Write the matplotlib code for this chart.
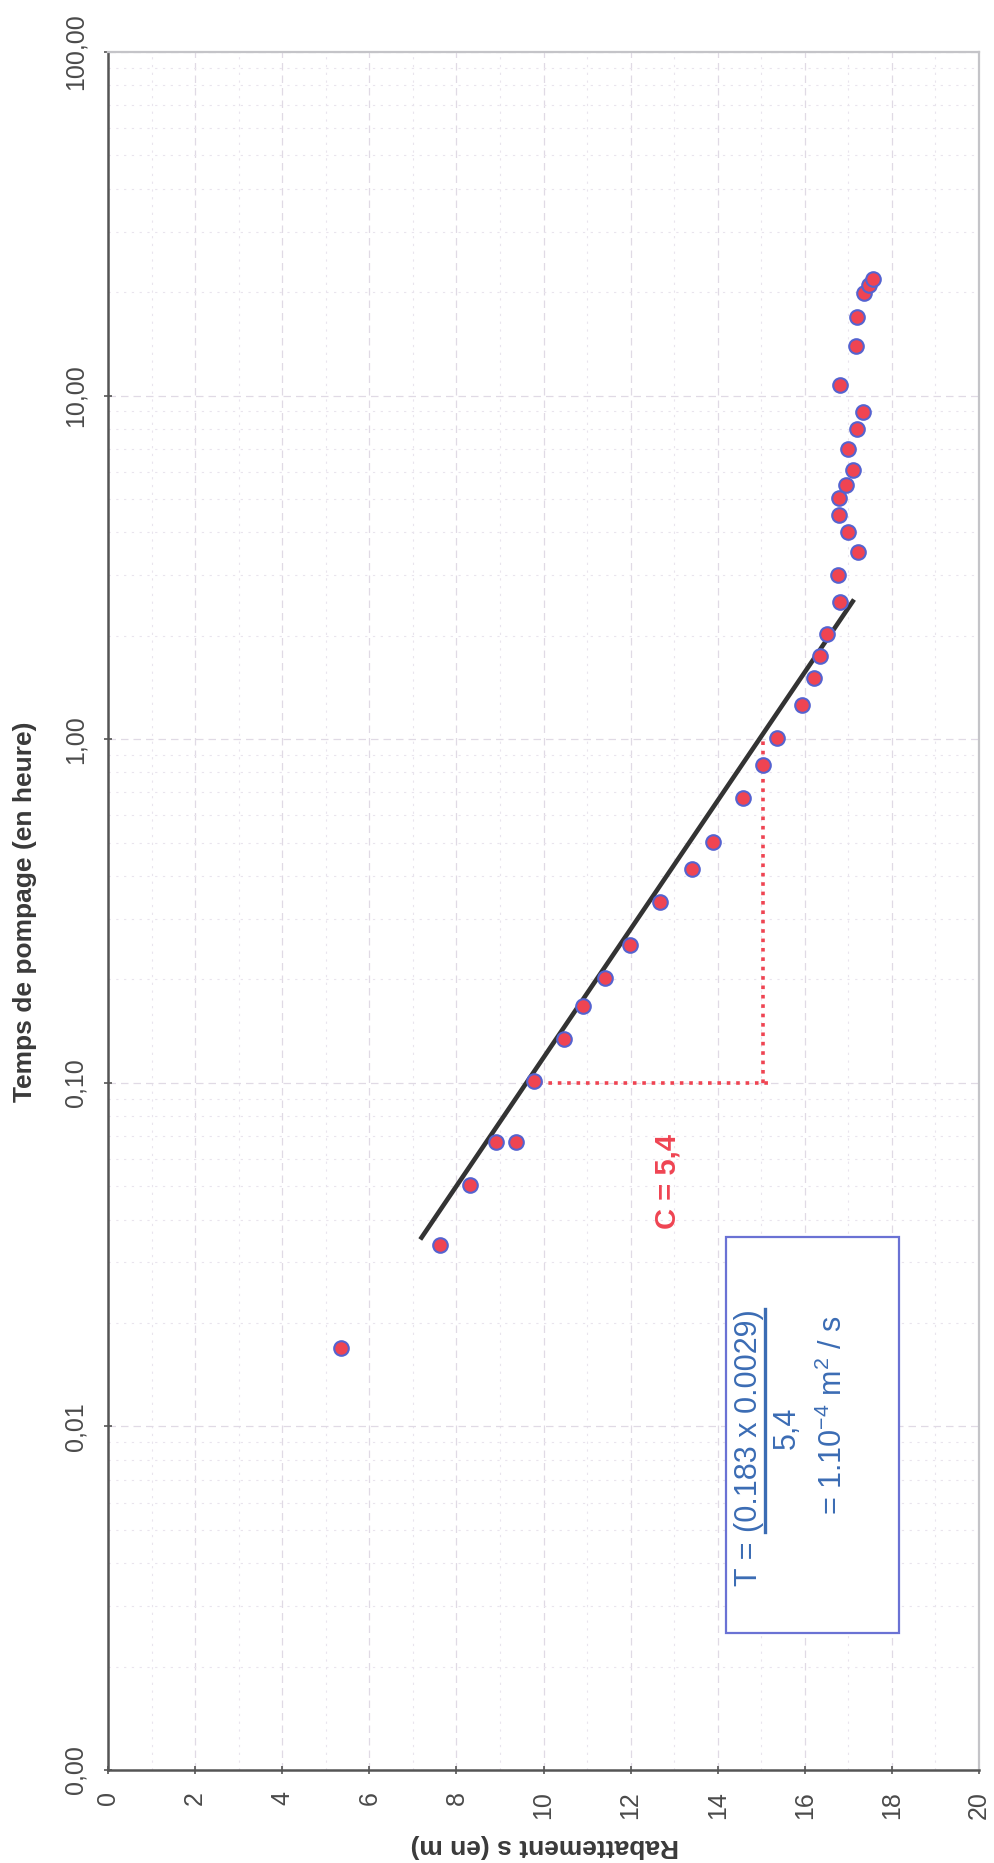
import matplotlib
matplotlib.use('Agg')
import matplotlib.pyplot as plt
from matplotlib.patches import Rectangle
from matplotlib.lines import Line2D
from matplotlib.ticker import FixedLocator, FuncFormatter, LogLocator

plt.rcParams['font.family'] = ['Liberation Sans', 'DejaVu Sans']
plt.rcParams['mathtext.default'] = 'regular'

# pumping test: time (hours) vs drawdown (m)
temps_h = [0.0169, 0.0338, 0.0505, 0.0671, 0.0671, 0.1009, 0.134, 0.1676,
           0.2017, 0.251, 0.335, 0.419, 0.502, 0.673, 0.839, 1.006, 1.256,
           1.51, 1.75, 2.02, 2.51, 3.0, 3.5, 4.0, 4.49, 5.02, 5.49, 6.07,
           6.99, 7.98, 8.97, 10.73, 13.9, 16.97, 19.9, 21.0, 21.9]
rabattement_m = [5.35, 7.62, 8.32, 8.90, 9.38, 9.78, 10.46, 10.91, 11.41,
                 11.98, 12.67, 13.40, 13.89, 14.59, 15.05, 15.37, 15.93,
                 16.20, 16.35, 16.52, 16.81, 16.77, 17.23, 17.00, 16.79,
                 16.79, 16.94, 17.10, 17.00, 17.20, 17.33, 16.81, 17.17,
                 17.20, 17.36, 17.48, 17.56]

# straight-line fit (Jacob)
fit_t = [0.035, 2.55]
fit_s = [7.17, 17.13]

# slope construction over one log cycle
cycle_t = [0.1, 1.0]
cycle_s_h = [9.9, 15.25]
cycle_s_v = 15.05

x_ticks = [0, 2, 4, 6, 8, 10, 12, 14, 16, 18, 20]
y_ticks = [0.001, 0.01, 0.1, 1, 10, 100]

RED = '#ef4452'
BLUE_EDGE = '#5563d0'
TXT_BLUE = '#3b6cb4'
GREY = '#3a3a3a'

fig = plt.figure(figsize=(9.94, 18.63), dpi=100)
ax = fig.add_axes([108 / 994, 93 / 1863, 871 / 994, 1718 / 1863])

ax.set_yscale('log')
ax.set_xlim(0, 20)
ax.set_ylim(0.001, 100)

# faint grid like the scanned sheet
ax.grid(True, which='major', color='#e0dae5', lw=0.9, ls=(0, (6, 4)))
ax.grid(True, which='minor', color='#e9e4ed', lw=0.8, ls=(0, (2, 5)))
ax.xaxis.set_minor_locator(FixedLocator([1, 3, 5, 7, 9, 11, 13, 15, 17, 19]))
ax.yaxis.set_minor_locator(LogLocator(base=10, subs=range(2, 10)))
ax.set_axisbelow(True)

ax.set_xticks(x_ticks)
ax.set_yticks(y_ticks)
ax.yaxis.set_major_formatter(FuncFormatter(lambda v, p: f"{v:.2f}".replace('.', ',')))
ax.xaxis.set_major_formatter(FuncFormatter(lambda v, p: f"{v:.0f}"))
ax.tick_params(axis='both', which='major', direction='inout', length=6, width=1.2,
               colors='#555555', labelcolor='#4a4a4a', labelsize=18)
ax.tick_params(axis='y', which='major', pad=12)
ax.tick_params(axis='x', which='major', pad=12)
ax.tick_params(which='minor', length=0)
for lab in ax.get_yticklabels():
    lab.set_rotation(90)
    lab.set_va('center')
for lab in ax.get_xticklabels():
    lab.set_rotation(90)

for side in ('left', 'bottom'):
    ax.spines[side].set_color('#555555')
    ax.spines[side].set_linewidth(1.8)
for side in ('top', 'right'):
    ax.spines[side].set_color('#c4c4c8')
    ax.spines[side].set_linewidth(1.6)

# slope construction
ax.plot(cycle_s_h, [cycle_t[0], cycle_t[0]], color=RED, lw=2.6, ls=(0, (1, 1.6)), zorder=3)
ax.plot([cycle_s_v, cycle_s_v], cycle_t, color=RED, lw=2.6, ls=(0, (1, 1.6)), zorder=3)

ax.plot(fit_s, fit_t, color='#333333', lw=3.3, solid_capstyle='butt', zorder=4)
ax.plot(rabattement_m, temps_h, 'o', ms=10.5, mfc=RED, mec=BLUE_EDGE, mew=1.5, zorder=5)

ax.text(12.85, 0.0517, 'C = 5,4', color=RED, fontsize=21, fontweight='bold',
        rotation=90, ha='center', va='center', rotation_mode='anchor')

# result box
ax.add_patch(Rectangle((14.2, 0.00251), 3.96, 0.0356 - 0.00251, fill=True,
                       facecolor='white', edgecolor='#6a72d4', lw=1.6, zorder=6))
num = ax.text(14.72, 0.0104, '(0.183 x 0.0029)', color=TXT_BLUE, fontsize=22,
              rotation=90, ha='center', va='center', rotation_mode='anchor', zorder=7)
ax.text(14.72, 0.0049, 'T = ', color=TXT_BLUE, fontsize=22,
        rotation=90, ha='right', va='center', rotation_mode='anchor', zorder=7)
ax.text(15.58, 0.0099, '5,4', color=TXT_BLUE, fontsize=22,
        rotation=90, ha='center', va='center', rotation_mode='anchor', zorder=7)
ax.text(16.66, 0.0108, r'= 1.10$^{-4}$ m$^{2}$ / s', color=TXT_BLUE, fontsize=22,
        rotation=90, ha='center', va='center', rotation_mode='anchor', zorder=7)

fig.text(25 / 994, 1 - 912 / 1863, 'Temps de pompage (en heure)', rotation=90,
         ha='center', va='center', fontsize=19, fontweight='bold', color=GREY)
fig.text(545 / 994, 1 - 1846 / 1863, 'Rabattement s (en m)', rotation=180,
         ha='center', va='center', fontsize=19, fontweight='bold', color=GREY)

# underline the numerator
fig.canvas.draw()
bb = num.get_window_extent()
inv = fig.transFigure.inverted()
(x0, y0), (x1, y1) = inv.transform([[bb.x0, bb.y0], [bb.x1, bb.y1]])
fig.add_artist(Line2D([x1 + 0.001, x1 + 0.001], [y0, y1], transform=fig.transFigure,
                      color=TXT_BLUE, lw=2.4, zorder=8))

fig.savefig('out.png', dpi=100)
